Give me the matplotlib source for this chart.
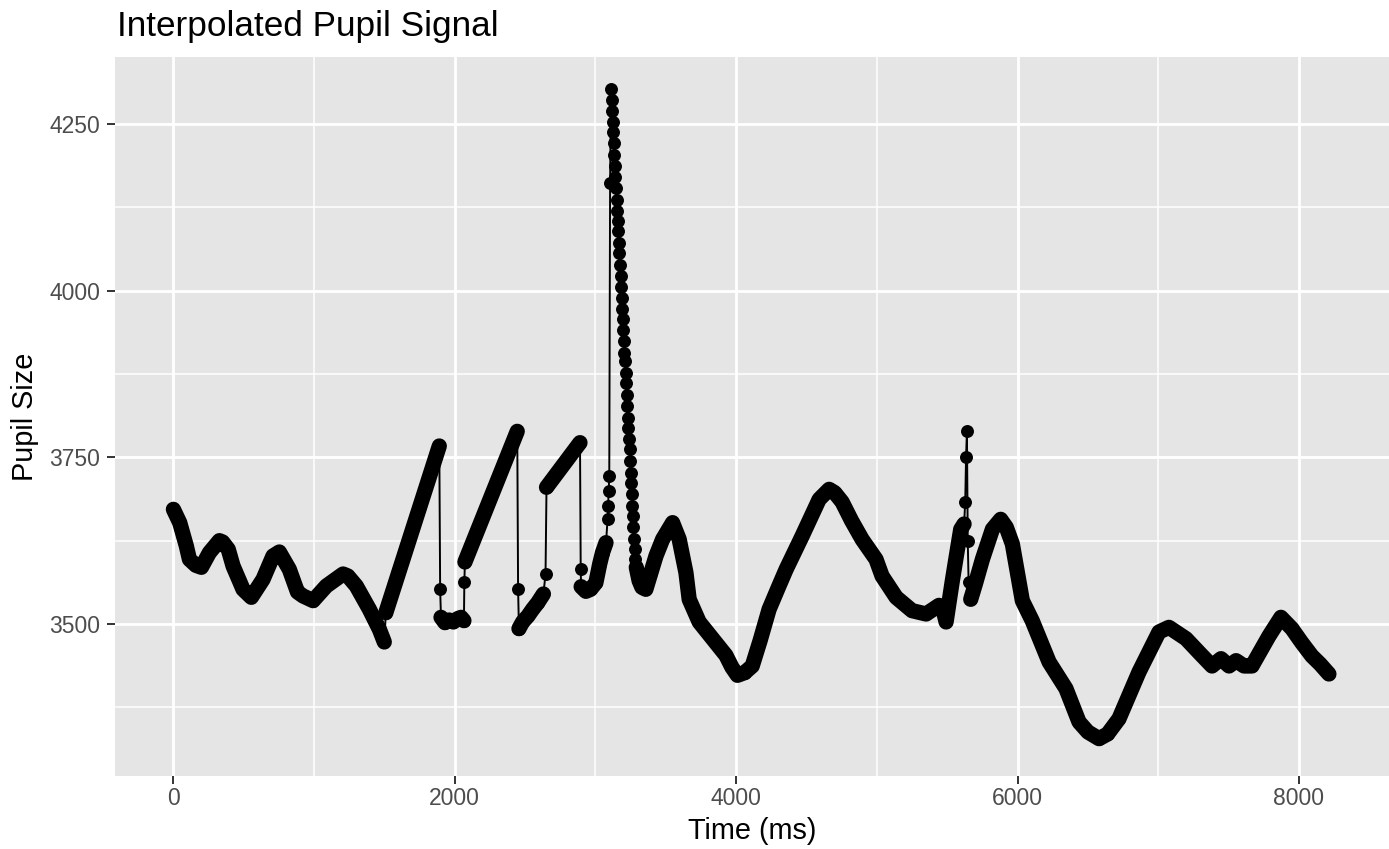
"""Interpolated pupil signal: pupil size over time, drawn ggplot-style."""

import matplotlib
matplotlib.use("Agg")
import matplotlib.pyplot as plt
import numpy as np

plt.rcParams["font.family"] = ["Liberation Sans", "DejaVu Sans"]

# --- data ------------------------------------------------------------------
# smooth recorded stretches and linear interpolation ramps (dense samples)
trace_a_t = [0, 45, 92, 114, 160, 199, 256, 327, 350, 390,
             424, 495, 554, 637, 708, 753, 824, 882, 922, 993,
             1087, 1206, 1240, 1300, 1393, 1464, 1499]
trace_a_v = [3672, 3652, 3617, 3597, 3588, 3585, 3607, 3625, 3623, 3612,
             3587, 3552, 3540, 3567, 3602, 3608, 3582, 3548, 3542, 3535,
             3557, 3575, 3572, 3557, 3522, 3492, 3473]
ramp_1_t = [1510, 1890]
ramp_1_v = [3517, 3767]
trace_b_t = [1902, 1930, 1960, 1990, 2020, 2045, 2065]
trace_b_v = [3510, 3502, 3506, 3503, 3508, 3510, 3505]
ramp_2_t = [2072, 2444]
ramp_2_v = [3593, 3789]
trace_c_t = [2456, 2482, 2520, 2553, 2590, 2630]
trace_c_v = [3493, 3503, 3512, 3522, 3532, 3545]
ramp_3_t = [2652, 2890]
ramp_3_v = [3705, 3772]
trace_d_t = [2898, 2932, 2965, 3003, 3030, 3050, 3075]
trace_d_v = [3556, 3549, 3552, 3562, 3590, 3607, 3622]
trace_e_t = [3290, 3310, 3330, 3358, 3394, 3430, 3477, 3548, 3595, 3643,
             3666, 3737, 3832, 3927, 3970, 4009, 4060, 4114, 4170, 4234,
             4300, 4355, 4469, 4590, 4661, 4700, 4753, 4820, 4895, 4994,
             5037, 5137, 5250, 5350, 5442, 5470, 5492, 5535, 5561, 5596,
             5620]
trace_e_v = [3585, 3565, 3555, 3552, 3577, 3602, 3627, 3652, 3627, 3577,
             3537, 3503, 3478, 3453, 3435, 3423, 3427, 3437, 3475, 3522,
             3555, 3582, 3632, 3687, 3702, 3697, 3683, 3655, 3627, 3597,
             3572, 3540, 3520, 3515, 3528, 3522, 3503, 3563, 3597, 3642,
             3650]
trace_f_t = [5667, 5700, 5750, 5821, 5880, 5920, 5963, 6034, 6104, 6224,
             6344, 6437, 6500, 6579, 6640, 6721, 6863, 7005, 7076, 7197,
             7300, 7382, 7446, 7503, 7553, 7610, 7666, 7787, 7872, 7950,
             8020, 8092, 8150, 8213]
trace_f_v = [3537, 3560, 3597, 3642, 3657, 3645, 3620, 3535, 3505, 3443,
             3403, 3353, 3338, 3328, 3335, 3358, 3428, 3488, 3495, 3478,
             3455, 3437, 3448, 3437, 3445, 3437, 3437, 3482, 3510, 3493,
             3472, 3452, 3440, 3425]

# isolated samples where the signal jumps
jump_1_t, jump_1_v = [1896], [3552]
jump_2_t, jump_2_v = [2068], [3563]
jump_3_t, jump_3_v = [2450], [3552]
jump_4_t, jump_4_v = [2645], [3575]
jump_5_t, jump_5_v = [2895], [3582]
spike_t = [3086, 3090, 3094, 3098, 3104,
           3110, 3114, 3118, 3122, 3126, 3130, 3134, 3138, 3142, 3146,
           3150, 3154, 3158, 3162, 3166, 3170, 3174, 3178, 3182, 3186,
           3190, 3194, 3198, 3202, 3206, 3210, 3214, 3218, 3222, 3226,
           3230, 3234, 3238, 3242, 3246, 3250, 3254, 3258, 3262, 3266,
           3270, 3274, 3278, 3282]
spike_v = [3657, 3677, 3700, 3722, 4162,
           4303, 4286, 4270, 4253, 4238, 4221, 4204, 4187, 4171, 4154,
           4136, 4120, 4104, 4089, 4072, 4056, 4039, 4022, 4006, 3989,
           3973, 3957, 3941, 3924, 3907, 3894, 3877, 3862, 3844, 3827,
           3809, 3794, 3777, 3762, 3744, 3727, 3712, 3695, 3677, 3662,
           3645, 3627, 3612, 3597]
blip_t = [5628, 5634, 5640, 5646, 5652]
blip_v = [3683, 3751, 3789, 3624, 3563]

x_ticks = [0, 2000, 4000, 6000, 8000]
y_ticks = [3500, 3750, 4000, 4250]

# --- figure ------------------------------------------------------------------
dense = [(trace_a_t, trace_a_v), (ramp_1_t, ramp_1_v), (trace_b_t, trace_b_v),
         (ramp_2_t, ramp_2_v), (trace_c_t, trace_c_v), (ramp_3_t, ramp_3_v),
         (trace_d_t, trace_d_v), (trace_e_t, trace_e_v), (trace_f_t, trace_f_v)]
single = [(jump_1_t, jump_1_v), (jump_2_t, jump_2_v), (jump_3_t, jump_3_v),
          (jump_4_t, jump_4_v), (jump_5_t, jump_5_v), (spike_t, spike_v),
          (blip_t, blip_v)]

all_t = np.concatenate([t for t, _ in dense + single])
all_v = np.concatenate([v for _, v in dense + single])
order = np.argsort(all_t, kind="stable")
all_t, all_v = all_t[order], all_v[order]

W, H = 1389, 849
fig = plt.figure(figsize=(W / 100, H / 100), dpi=100)
ax = fig.add_axes([115 / W, 1 - 776 / H, (W - 115) / W, (776 - 57.3) / H])
ax.set_facecolor("#E5E5E5")
for s in ax.spines.values():
    s.set_visible(False)

# geom_line through every sample
ax.plot(all_t, all_v, color="black", lw=1.4, zorder=2)
# overlapping points of densely sampled stretches form a solid band
for t, v in dense:
    ax.plot(t, v, color="black", lw=11, solid_capstyle="round",
            solid_joinstyle="round", zorder=3)
ax.plot(all_t, all_v, linestyle="none", marker="o", markersize=8.3,
        color="black", zorder=4)

ax.set_xlim(-415, 8640)
ax.set_ylim(3272, 4350)
ax.set_xticks(x_ticks)
ax.set_yticks(y_ticks)
ax.set_xticks([1000, 3000, 5000, 7000], minor=True)
ax.set_yticks([3375, 3625, 3875, 4125], minor=True)
ax.grid(which="major", color="white", lw=2.0)
ax.grid(which="minor", color="white", lw=1.1)
ax.set_axisbelow(True)

ax.tick_params(which="major", length=5.5, width=1.4, color="#333333",
               labelcolor="#4D4D4D", labelsize=16.5)
ax.tick_params(which="minor", length=0)
ax.tick_params(axis="x", pad=2.5)
ax.tick_params(axis="y", pad=5.2)

fig.text(117 / W, 1 - 36 / H, "Interpolated Pupil Signal", fontsize=25.3,
         va="baseline", ha="left", color="black")
fig.text(752 / W, 1 - 839 / H, "Time (ms)", fontsize=20.8,
         va="baseline", ha="center", color="black")
fig.text(25 / W, 1 - 417 / H, "Pupil Size", fontsize=20.8, rotation=90,
         va="center", ha="center", color="black")

fig.savefig("out.png", dpi=100)
